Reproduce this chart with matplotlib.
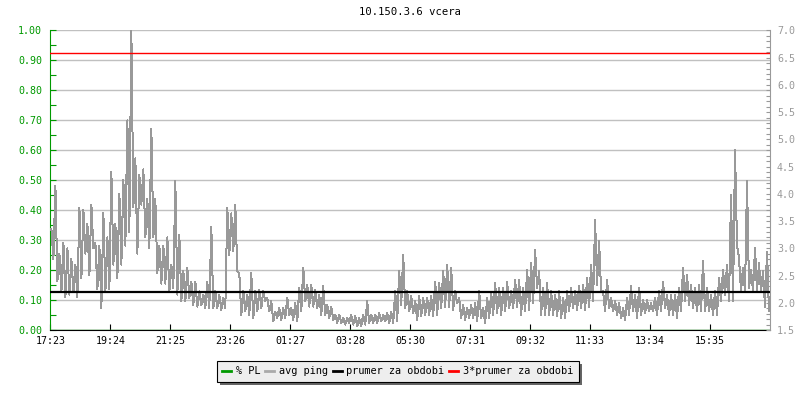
import numpy as np
import matplotlib
matplotlib.use("Agg")
import matplotlib.pyplot as plt
from matplotlib.lines import Line2D
from matplotlib.ticker import MultipleLocator, FormatStrFormatter


title = "10.150.3.6 vcera"
time_labels = ["17:23", "19:24", "21:25", "23:26", "01:27", "03:28",
               "05:30", "07:31", "09:32", "11:33", "13:34", "15:35"]
tick_step = 121.1   # minuty mezi popisky
span = 1453.0       # delka obdobi v minutach

# avg ping [ms], horni / dolni obalka po ~8 minutach
ping_hi = [
    3.35, 4.15, 2.90, 3.10, 3.00, 2.80, 2.70, 3.75, 3.70, 3.45, 3.80, 3.10, 3.05, 3.65, 3.20,
    4.40, 3.45, 4.00, 4.25, 5.35, 7.00, 4.65, 4.35, 4.45, 3.90, 5.20, 3.90, 3.05, 3.05, 3.20,
    2.70, 4.23, 3.25, 2.58, 2.64, 2.39, 2.39, 2.21, 2.15, 2.39, 3.40, 2.21, 2.15, 2.09, 3.74,
    3.64, 3.80, 2.54, 2.21, 2.15, 2.54, 2.21, 2.24, 2.21, 2.09, 2.03, 1.84, 1.90, 1.90, 2.09,
    1.90, 1.99, 2.27, 2.64, 2.33, 2.33, 2.24, 2.15, 2.30, 1.96, 1.93, 1.78, 1.78, 1.72, 1.72,
    1.78, 1.75, 1.72, 1.78, 2.03, 1.78, 1.78, 1.81, 1.78, 1.81, 1.84, 2.21, 2.58, 2.88, 2.21,
    2.12, 2.03, 2.12, 2.09, 2.09, 2.12, 2.39, 2.36, 2.58, 2.70, 2.64, 2.21, 2.09, 1.96, 1.90,
    1.96, 1.99, 2.21, 1.90, 2.09, 2.18, 2.36, 2.27, 2.27, 2.39, 2.21, 2.42, 2.42, 2.27, 2.61,
    2.73, 2.97, 2.58, 2.27, 2.36, 2.21, 2.15, 2.21, 2.09, 2.21, 2.27, 2.21, 2.30, 2.33, 2.45,
    2.70, 3.52, 3.13, 2.21, 2.42, 2.09, 2.03, 1.99, 1.90, 2.09, 2.30, 2.15, 2.27, 2.06, 2.06,
    1.99, 2.09, 2.21, 2.39, 2.15, 2.15, 2.15, 2.27, 2.64, 2.51, 2.33, 2.27, 2.33, 2.76, 2.27,
    2.15, 2.21, 2.45, 2.61, 2.70, 3.98, 4.81, 2.82, 2.64, 4.23, 2.61, 3.00, 2.73, 2.58, 2.94,
]
ping_lo = [
    2.80, 2.40, 2.20, 2.10, 2.15, 2.20, 2.10, 2.45, 2.90, 2.50, 3.00, 2.25, 1.90, 2.20, 2.25,
    2.70, 2.45, 2.70, 3.05, 3.30, 3.75, 2.90, 3.80, 3.20, 3.00, 3.20, 2.55, 2.35, 2.35, 2.20,
    2.27, 2.15, 2.03, 2.03, 2.09, 1.96, 1.93, 1.96, 1.90, 1.90, 1.90, 1.90, 1.87, 1.90, 2.88,
    2.94, 2.58, 1.78, 1.84, 1.78, 1.72, 1.84, 1.90, 2.03, 1.84, 1.66, 1.72, 1.69, 1.72, 1.78,
    1.69, 1.66, 1.84, 2.03, 1.93, 1.93, 1.90, 1.78, 1.78, 1.72, 1.69, 1.63, 1.63, 1.60, 1.63,
    1.60, 1.57, 1.57, 1.60, 1.63, 1.63, 1.63, 1.66, 1.66, 1.63, 1.63, 1.66, 1.96, 1.90, 1.84,
    1.81, 1.69, 1.75, 1.78, 1.78, 1.75, 1.78, 1.90, 1.93, 1.93, 1.87, 1.99, 1.72, 1.69, 1.72,
    1.72, 1.66, 1.72, 1.63, 1.72, 1.78, 1.81, 1.78, 1.84, 1.90, 1.90, 1.93, 1.78, 1.84, 1.87,
    1.99, 2.27, 1.78, 1.78, 1.78, 1.78, 1.75, 1.72, 1.72, 1.84, 1.90, 1.87, 1.90, 1.87, 1.93,
    2.03, 2.33, 2.21, 1.84, 1.90, 1.84, 1.78, 1.72, 1.69, 1.78, 1.84, 1.72, 1.78, 1.81, 1.84,
    1.84, 1.78, 1.84, 1.90, 1.78, 1.78, 1.72, 1.84, 2.03, 1.96, 1.90, 1.84, 1.84, 1.84, 1.84,
    1.78, 1.78, 2.03, 2.15, 2.03, 2.03, 3.06, 2.21, 2.21, 2.27, 2.21, 2.21, 2.21, 1.93, 1.84,
]
pl_values = [0.0, 0.0]   # % PL - cely den nulova ztrata
mean_ping = 2.197        # prumer za obdobi

GREEN = "#009900"
GRAY = "#999999"
plt.rcParams["font.family"] = ["DejaVu Sans Mono"]
plt.rcParams["font.size"] = 7.2

n = len(ping_hi)
step = span / n
t = np.empty(2 * n)
v = np.empty(2 * n)
t[0::2] = np.arange(n) * step + 0.25 * step
t[1::2] = np.arange(n) * step + 0.75 * step
v[0::2] = ping_hi
v[1::2] = ping_lo

fig = plt.figure(figsize=(8, 4), dpi=100)
ax = fig.add_axes([0.063, 0.175, 0.8995, 0.749])
ax2 = ax.twinx()

# leva osa - % PL
ax.plot([0, span], pl_values, color=GREEN, lw=1, zorder=1)
ax.set_xlim(0, span)
ax.set_ylim(0, 1.0)
ax.yaxis.set_major_locator(MultipleLocator(0.1))
ax.yaxis.set_minor_locator(MultipleLocator(0.05))
ax.yaxis.set_major_formatter(FormatStrFormatter("%.2f"))
ax.grid(axis="y", which="major", color="#c0c0c0", lw=1)
ax.set_axisbelow(True)
ax.set_xticks(np.arange(len(time_labels)) * tick_step)
ax.set_xticklabels(time_labels)
ax.tick_params(axis="x", direction="in", length=4, width=0.8, color="black", pad=4)
ax.tick_params(axis="y", which="both", direction="in", length=4, width=0.8,
               color=GREEN, labelcolor=GREEN, pad=6)
ax.spines["left"].set_color(GREEN)
ax.spines["bottom"].set_color("black")
for s in ["top", "right"]:
    ax.spines[s].set_visible(False)

# prava osa - avg ping
ax2.plot(t, v, color=GRAY, lw=0.72, antialiased=False, zorder=2)
ax2.axhline(mean_ping, color="black", lw=1.6, zorder=3)
ax2.axhline(3 * mean_ping, color="#ff0000", lw=1.0, zorder=3)
ax2.set_ylim(1.5, 7.0)
ax2.yaxis.set_major_locator(MultipleLocator(0.5))
ax2.yaxis.set_minor_locator(MultipleLocator(0.1))
ax2.yaxis.set_major_formatter(FormatStrFormatter("%.1f"))
ax2.tick_params(axis="y", which="both", direction="in", length=3, width=0.8,
                color=GRAY, labelcolor=GRAY, pad=5)
ax2.spines["right"].set_color(GRAY)
for s in ["top", "left", "bottom"]:
    ax2.spines[s].set_visible(False)

fig.text(0.5125, 0.97, title, ha="center", va="center", fontsize=7.6)

handles = [Line2D([], [], color=GREEN, lw=2),
           Line2D([], [], color="#aaaaaa", lw=2),
           Line2D([], [], color="black", lw=2),
           Line2D([], [], color="#ff0000", lw=2)]
labels = ["% PL", "avg ping", "prumer za obdobi", "3*prumer za obdobi"]
leg = fig.legend(handles, labels, loc="center", bbox_to_anchor=(0.497, 0.072), ncol=4,
                 fontsize=7.4, frameon=True, fancybox=False,
                 shadow={"ox": 2.2, "oy": -2.2, "facecolor": "#666666",
                         "edgecolor": "none", "alpha": 1},
                 handlelength=0.85, handletextpad=0.45, columnspacing=0.5,
                 borderpad=0.55, borderaxespad=0)
leg.get_frame().set_facecolor("#eeeeee")
leg.get_frame().set_edgecolor("black")
leg.get_frame().set_linewidth(0.8)
leg.get_frame().set_alpha(1)

fig.savefig("out.png", dpi=100)
